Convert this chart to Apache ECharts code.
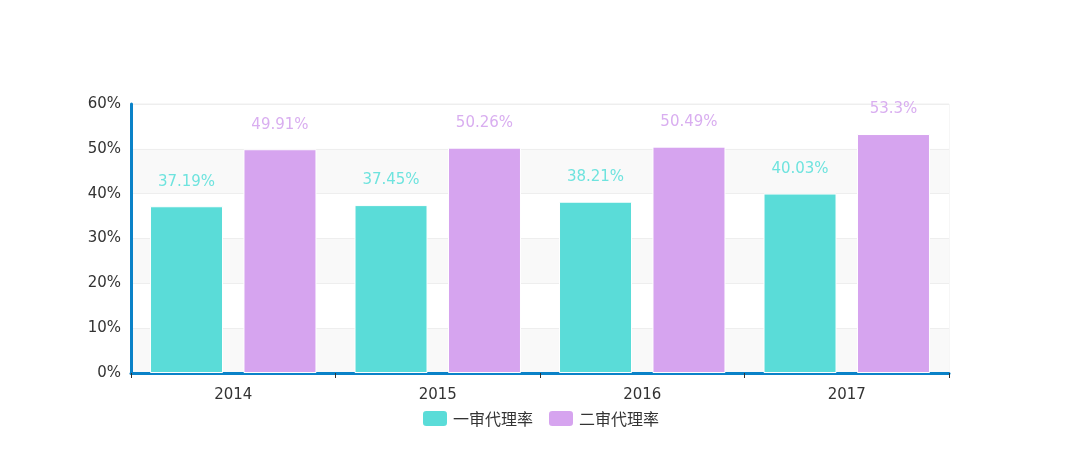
<!DOCTYPE html>
<html>
<head>
<meta charset="utf-8">
<script src="https://cdn.jsdelivr.net/npm/echarts@6/dist/echarts.min.js"></script>
<style>
html,body{margin:0;padding:0;background:#fff;}
#main{width:1080px;height:473px;}
</style>
</head>
<body>
<div id="main"></div>
<script>
var years = ['2014', '2015', '2016', '2017'];
var firstRate = [37.19, 37.45, 38.21, 40.03];
var secondRate = [49.91, 50.26, 50.49, 53.3];

var myChart = echarts.init(document.getElementById('main'));
var fontFam = '"DejaVu Sans", "Noto Sans CJK SC", sans-serif';

var option = {
    animation: false,
    textStyle: {fontFamily: fontFam},
    legend: {
        bottom: 40,
        left: 'center',
        itemWidth: 26,
        itemHeight: 17,
        itemGap: 14,
        textStyle: {color: '#333', fontSize: 16, fontFamily: '"Noto Sans CJK SC", sans-serif'},
        data: ['一审代理率', '二审代理率']
    },
    grid: {
        left: 131,
        right: 131,
        top: 104,
        bottom: 100,
        show: true,
        borderColor: '#eee',
        borderWidth: 1
    },
    xAxis: {
        type: 'category',
        data: years,
        axisLine: {lineStyle: {color: '#0a82c8', width: 3}},
        axisTick: {show: true, length: 5, lineStyle: {color: '#333'}},
        axisLabel: {color: '#333', fontSize: 15, margin: 15}
    },
    yAxis: {
        type: 'value',
        min: 0,
        max: 60,
        interval: 10,
        axisLine: {show: true, lineStyle: {color: '#0a82c8', width: 3}},
        axisTick: {show: false},
        axisLabel: {color: '#333', fontSize: 15, formatter: '{value}%', margin: 10},
        splitLine: {lineStyle: {color: '#eee'}},
        splitArea: {show: true, areaStyle: {color: ['#f9f9f9', '#fff']}}
    },
    series: [
        {
            name: '一审代理率',
            type: 'bar',
            barWidth: 73,
            barGap: '28%',
            data: firstRate,
            itemStyle: {color: '#5adcd8', borderColor: '#fff', borderWidth: 1},
            label: {
                show: true,
                position: 'top',
                distance: 17,
                color: '#6ee3de',
                fontSize: 15,
                formatter: '{c}%'
            }
        },
        {
            name: '二审代理率',
            type: 'bar',
            barWidth: 73,
            data: secondRate,
            itemStyle: {color: '#d6a4ef', borderColor: '#fff', borderWidth: 1},
            label: {
                show: true,
                position: 'top',
                distance: 17,
                color: '#d9aef0',
                fontSize: 15,
                formatter: '{c}%'
            }
        }
    ]
};

myChart.setOption(option);
</script>
</body>
</html>
